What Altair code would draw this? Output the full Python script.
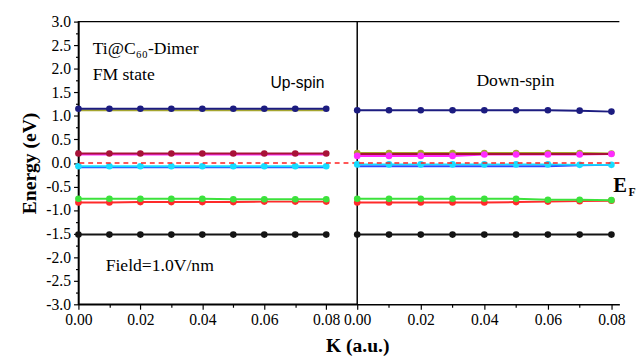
import altair as alt
import pandas as pd

# ---------------- data ----------------
k = [0.00, 0.01, 0.02, 0.03, 0.04, 0.05, 0.06, 0.07, 0.08]

band_names = ["olive", "navy", "magenta", "maroon", "blue", "cyan", "red", "green", "black"]
band_colors = ["#a5a52e", "#1c1c80", "#ff2cff", "#a81238", "#2a4dff", "#18dcff", "#ff2a2a", "#3ce23c", "#141414"]

# Up-spin bands (eV)
up_olive   = [1.12, 1.12, 1.12, 1.12, 1.12, 1.12, 1.12, 1.12, 1.12]
up_navy    = [1.15, 1.15, 1.15, 1.15, 1.15, 1.15, 1.15, 1.15, 1.15]
up_magenta = [0.18, 0.18, 0.18, 0.18, 0.18, 0.18, 0.18, 0.18, 0.18]
up_maroon  = [0.20, 0.20, 0.20, 0.20, 0.20, 0.20, 0.20, 0.20, 0.20]
up_blue    = [-0.09, -0.09, -0.09, -0.09, -0.09, -0.09, -0.09, -0.09, -0.09]
up_cyan    = [-0.07, -0.07, -0.07, -0.07, -0.07, -0.07, -0.07, -0.07, -0.07]
up_red     = [-0.84, -0.84, -0.83, -0.83, -0.83, -0.83, -0.82, -0.82, -0.82]
up_green   = [-0.76, -0.76, -0.76, -0.76, -0.76, -0.77, -0.77, -0.77, -0.77]
up_black   = [-1.52, -1.52, -1.52, -1.52, -1.52, -1.52, -1.52, -1.52, -1.52]

# Down-spin bands (eV)
dn_olive   = [0.21, 0.21, 0.21, 0.21, 0.21, 0.21, 0.21, 0.21, 0.20]
dn_navy    = [1.12, 1.12, 1.12, 1.12, 1.12, 1.12, 1.12, 1.11, 1.09]
dn_magenta = [0.15, 0.15, 0.15, 0.15, 0.18, 0.18, 0.18, 0.18, 0.19]
dn_maroon  = [0.19, 0.19, 0.19, 0.19, 0.19, 0.19, 0.19, 0.19, 0.19]
dn_blue    = [-0.07, -0.07, -0.07, -0.07, -0.07, -0.07, -0.07, -0.05, -0.04]
dn_cyan    = [-0.03, -0.03, -0.03, -0.03, -0.03, -0.03, -0.03, -0.04, -0.04]
dn_red     = [-0.84, -0.84, -0.84, -0.84, -0.84, -0.83, -0.82, -0.81, -0.80]
dn_green   = [-0.76, -0.76, -0.76, -0.76, -0.76, -0.76, -0.78, -0.78, -0.79]
dn_black   = [-1.52, -1.52, -1.52, -1.52, -1.52, -1.52, -1.52, -1.52, -1.52]

up_series = [up_olive, up_navy, up_magenta, up_maroon, up_blue, up_cyan, up_red, up_green, up_black]
dn_series = [dn_olive, dn_navy, dn_magenta, dn_maroon, dn_blue, dn_cyan, dn_red, dn_green, dn_black]
up_markers = ["navy", "maroon", "cyan", "red", "green", "black"]
dn_markers = ["olive", "navy", "magenta", "cyan", "red", "green", "black"]

x_ticks = [0.00, 0.01, 0.02, 0.03, 0.04, 0.05, 0.06, 0.07, 0.08]
y_ticks = [-3.0, -2.75, -2.5, -2.25, -2.0, -1.75, -1.5, -1.25, -1.0, -0.75, -0.5, -0.25,
           0.0, 0.25, 0.5, 0.75, 1.0, 1.25, 1.5, 1.75, 2.0, 2.25, 2.5, 2.75, 3.0]

up_text = ["Ti@C\u2086\u2080-Dimer", "FM state", "Field=1.0V/nm"]
up_text_k = [0.0046, 0.0046, 0.0088]
up_text_e = [2.42, 1.86, -2.19]

SERIF = "Liberation Serif"

# ---------------- helpers ----------------
def long_df(series, markers):
    rows = []
    for name, vals in zip(band_names, series):
        for kk, ee in zip(k, vals):
            rows.append({"k": kk, "E": ee, "band": name, "marker": name in markers})
    return pd.DataFrame(rows)


color = alt.Color("band:N", scale=alt.Scale(domain=band_names, range=band_colors), legend=None)
yscale = alt.Scale(domain=[-3, 3], nice=False, zero=False)

x_label_expr = "round(datum.value*100) % 2 == 0 ? format(datum.value, '.2f') : ''"
x_tick_size = {"condition": {"test": "round(datum.value*100) % 2 == 0", "value": 5}, "value": 3}
y_label_expr = ("abs(round(datum.value*4)) % 2 == 0 ? "
                "(datum.value < 0 ? '-' : '') + format(abs(datum.value), '.1f') : ''")
y_tick_size = {"condition": {"test": "abs(round(datum.value*4)) % 2 == 0", "value": 5}, "value": 3}

common_axis = dict(labelOverlap=False, labelFlush=False, labelFont=SERIF, labelFontSize=16,
                   labelColor="black", titleFont=SERIF, titleFontSize=20, titleFontWeight="bold",
                   titleColor="black", grid=False, domainColor="black", domainWidth=1.5,
                   tickColor="black", tickWidth=1.2, labelPadding=3)


def panel(series, markers, width, xmax, left):
    df = long_df(series, markers)
    xscale = alt.Scale(domain=[0, xmax], nice=False, zero=False)
    if left:
        xaxis = alt.Axis(values=x_ticks, labelExpr=x_label_expr, tickSize=x_tick_size,
                         title="K (a.u.)", titleX=width, titleAlign="center",
                         titlePadding=8, **common_axis)
        yaxis = alt.Axis(values=y_ticks, labelExpr=y_label_expr, tickSize=y_tick_size,
                         title="Energy (eV)", titlePadding=7, **common_axis)
    else:
        xaxis = alt.Axis(values=x_ticks, labelExpr=x_label_expr, tickSize=x_tick_size,
                         title="", **common_axis)
        yaxis = None

    X = lambda: alt.X("k:Q", scale=xscale, axis=xaxis)
    Y = lambda: alt.Y("E:Q", scale=yscale, axis=yaxis)

    base = alt.Chart(df).encode(x=X(), y=Y(), color=color)
    lines = base.mark_line(strokeWidth=2)
    pts = base.transform_filter("datum.marker").mark_point(filled=True, size=46, opacity=1)

    zero = alt.Chart(pd.DataFrame({"E": [0.0]})).mark_rule(
        color="#ff2020", strokeDash=[5, 4], strokeWidth=1.5).encode(y=Y())

    layers = [lines, pts, zero]

    def txt(kv, ev, t, size, font=SERIF, weight="normal"):
        d = pd.DataFrame({"k": kv, "E": ev, "t": t})
        return alt.Chart(d).mark_text(align="left", baseline="middle", fontSize=size,
                                      font=font, fontWeight=weight, color="black").encode(
            x=X(), y=Y(), text="t:N")

    if left:
        layers += [txt(up_text_k, up_text_e, up_text, 18),
                   txt([0.062], [1.69], ["Up-spin"], 16, font="Liberation Sans")]
    else:
        top = alt.Chart(pd.DataFrame({"a": [0]})).mark_rule(color="black", strokeWidth=1.5).encode(
            x=alt.value(0), x2=alt.value(width), y=alt.value(0))
        layers += [txt([0.0375], [1.73], ["Down-spin"], 18),
                   txt([0.0806], [-0.49], ["E"], 21, weight="bold"),
                   txt([0.0854], [-0.62], ["F"], 12, weight="bold"),
                   top]

    ch = alt.layer(*layers).properties(width=width, height=289)
    if not left:
        ch = ch.properties(view=alt.ViewBackground(strokeOpacity=0))
    return ch


left = panel(up_series, up_markers, 285, 0.09, True)
right = panel(dn_series, dn_markers, 268, 0.0825, False)

chart = alt.hconcat(left, right, spacing=0, bounds="flush").properties(
    padding={"left": 10, "top": 1, "right": 0, "bottom": 0}
).configure(font=SERIF).configure_view(
    stroke="black", strokeWidth=1.5
).configure_axis(
    grid=False, labelFont=SERIF, titleFont=SERIF
)

chart.save("out.html", embed_options={"renderer": "svg", "actions": False})
